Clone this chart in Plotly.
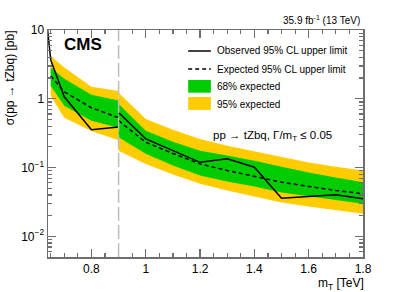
import plotly.graph_objects as go

# ---------------- data ----------------
# segment 1 (left of the 0.9 TeV boundary)
mass_lo = [0.65, 0.70, 0.80, 0.90]
obs_lo_masses = [0.60, 0.65, 0.70, 0.80, 0.90]
obs_lo = [300.0, 3.67, 1.07, 0.355, 0.39]
exp_lo = [2.15, 1.26, 0.74, 0.53]
g_hi_lo = [2.84, 1.95, 1.14, 0.94]
g_lo_lo = [1.54, 0.79, 0.48, 0.38]
y_hi_lo = [4.2, 2.84, 1.49, 1.30]
y_lo_lo = [1.10, 0.53, 0.34, 0.25]

# segment 2 (right of the 0.9 TeV boundary)
mass_hi = [0.9, 1.0, 1.1, 1.2, 1.3, 1.4, 1.5, 1.6, 1.7, 1.8]
obs_hi = [0.633, 0.261, 0.176, 0.119, 0.134, 0.101, 0.0359, 0.038, 0.0402, 0.0352]
exp_hi = [0.480, 0.233, 0.160, 0.113, 0.0905, 0.0741, 0.0612, 0.0531, 0.0464, 0.0416]
g_hi_hi = [0.838, 0.344, 0.238, 0.176, 0.149, 0.126, 0.103, 0.0847, 0.0716, 0.0612]
g_lo_hi = [0.275, 0.158, 0.107, 0.0766, 0.0627, 0.0531, 0.0434, 0.038, 0.0333, 0.0298]
y_hi_hi = [1.22, 0.508, 0.355, 0.261, 0.208, 0.171, 0.140, 0.118, 0.103, 0.0905]
y_lo_hi = [0.176, 0.113, 0.0792, 0.058, 0.0464, 0.038, 0.0311, 0.0272, 0.0238, 0.0213]

boundary_mass = 0.9

x_range = [0.64, 1.8]
y_tickvals = [0.01, 0.1, 1, 10]
y_ticktext = ["10<sup>\u22122</sup>", "10<sup>\u22121</sup>", "1", "10"]

legend_labels = ["Observed 95% CL upper limit", "Expected 95% CL upper limit",
                 "68% expected", "95% expected"]

GREEN = "#00cc00"
YELLOW = "#ffcc00"
FONT = "Liberation Sans, Arial, sans-serif"
AXC = "#6e6e6e"

fig = go.Figure()

def band(x, lo, hi, color):
    fig.add_trace(go.Scatter(x=x, y=lo, mode="lines", line=dict(width=0, color=color),
                             showlegend=False, hoverinfo="skip"))
    fig.add_trace(go.Scatter(x=x, y=hi, mode="lines", line=dict(width=0, color=color),
                             fill="tonexty", fillcolor=color, showlegend=False, hoverinfo="skip"))

for xs, ylo, yhi, glo, ghi in [(mass_lo, y_lo_lo, y_hi_lo, g_lo_lo, g_hi_lo),
                               (mass_hi, y_lo_hi, y_hi_hi, g_lo_hi, g_hi_hi)]:
    band(xs, ylo, yhi, YELLOW)
    band(xs, glo, ghi, GREEN)

for xs, ys in [(mass_lo, exp_lo), (mass_hi, exp_hi)]:
    fig.add_trace(go.Scatter(x=xs, y=ys, mode="lines",
                             line=dict(color="black", width=1.5, dash="4px,3px"),
                             showlegend=False))
for xs, ys in [(obs_lo_masses, obs_lo), (mass_hi, obs_hi)]:
    fig.add_trace(go.Scatter(x=xs, y=ys, mode="lines",
                             line=dict(color="black", width=1.5), showlegend=False))

# boundary line
fig.add_shape(type="line", x0=boundary_mass, x1=boundary_mass, xref="x", y0=0, y1=1, yref="paper",
              line=dict(color="#bdbdbd", width=1.5, dash="14px,4px"), layer="above")

# manual legend
lx0, lx1, tx = 0.445, 0.517, 0.530
fig.add_shape(type="line", xref="paper", yref="paper", x0=lx0, x1=lx1, y0=0.9075, y1=0.9075,
              line=dict(color="black", width=1.5))
fig.add_shape(type="line", xref="paper", yref="paper", x0=lx0, x1=lx1, y0=0.828, y1=0.828,
              line=dict(color="black", width=1.5, dash="4px,3px"))
fig.add_shape(type="rect", xref="paper", yref="paper", x0=lx0, x1=lx1, y0=0.724, y1=0.780,
              line=dict(width=0), fillcolor=GREEN)
fig.add_shape(type="rect", xref="paper", yref="paper", x0=lx0, x1=lx1, y0=0.648, y1=0.705,
              line=dict(width=0), fillcolor=YELLOW)
for lab, yy in zip(legend_labels, [0.9075, 0.828, 0.749, 0.674]):
    fig.add_annotation(text=lab, xref="paper", yref="paper", x=tx, y=yy, xanchor="left",
                       yanchor="middle", showarrow=False, font=dict(size=10, color="black", family=FONT))

fig.add_annotation(text="<b>CMS</b>", xref="paper", yref="paper", x=0.045, y=0.934,
                   xanchor="left", yanchor="middle", showarrow=False,
                   font=dict(size=17, color="black", family=FONT))
fig.add_annotation(text="35.9 fb<sup>-1</sup> (13 TeV)", xref="paper", yref="paper", x=0.997, y=1.046,
                   xanchor="right", yanchor="middle", showarrow=False,
                   font=dict(size=10, color="black", family=FONT))
fig.add_annotation(text="pp \u2192 tZbq, \u0393/m<sub>T</sub> \u2264 0.05", xref="paper", yref="paper",
                   x=0.519, y=0.535, xanchor="left", yanchor="middle", showarrow=False,
                   font=dict(size=11.5, color="black", family=FONT))
fig.add_annotation(text="\u03c3(pp \u2192 tZbq) [pb]", xref="paper", yref="paper", x=-0.122, y=0.79,
                   xanchor="center", yanchor="middle", textangle=-90, showarrow=False,
                   font=dict(size=12, color="black", family=FONT))
fig.add_annotation(text="m<sub>T</sub> [TeV]", xref="paper", yref="paper", x=1.008, y=-0.118,
                   xanchor="right", yanchor="middle", showarrow=False,
                   font=dict(size=12, color="black", family=FONT))

fig.update_layout(
    width=407, height=292,
    margin=dict(l=48, r=44, t=30, b=35),
    paper_bgcolor="white", plot_bgcolor="white",
    font=dict(family=FONT, size=12, color="black"),
    showlegend=False,
    xaxis=dict(range=x_range, showgrid=False, zeroline=False, showline=True, linecolor=AXC,
               linewidth=1.5, mirror="ticks", ticks="inside", ticklen=8, tickcolor=AXC, tickwidth=1.2,
               tick0=0.8, dtick=0.2, tickfont=dict(size=12, color="black"),
               minor=dict(ticks="inside", ticklen=4, dtick=0.05, tick0=0.8, tickcolor=AXC,
                          tickwidth=1.2, showgrid=False)),
    yaxis=dict(type="log", range=[-2.301, 1.0], showgrid=False, zeroline=False, showline=True,
               linecolor=AXC, linewidth=1.5, mirror="ticks", ticks="inside", ticklen=8,
               tickcolor=AXC, tickwidth=1.2, tickmode="array", tickvals=y_tickvals,
               ticktext=y_ticktext, tickfont=dict(size=12, color="black"),
               minor=dict(ticks="inside", ticklen=4, tickcolor=AXC, tickwidth=1.2, showgrid=False,
                          tickmode="array",
                          tickvals=[m * 10 ** e for e in (-3, -2, -1, 0) for m in range(2, 10)])),
)

fig.write_html("out.html", config={"displayModeBar": False, "staticPlot": True},
               post_script="document.body.style.margin='0';document.body.style.overflow='hidden';")
